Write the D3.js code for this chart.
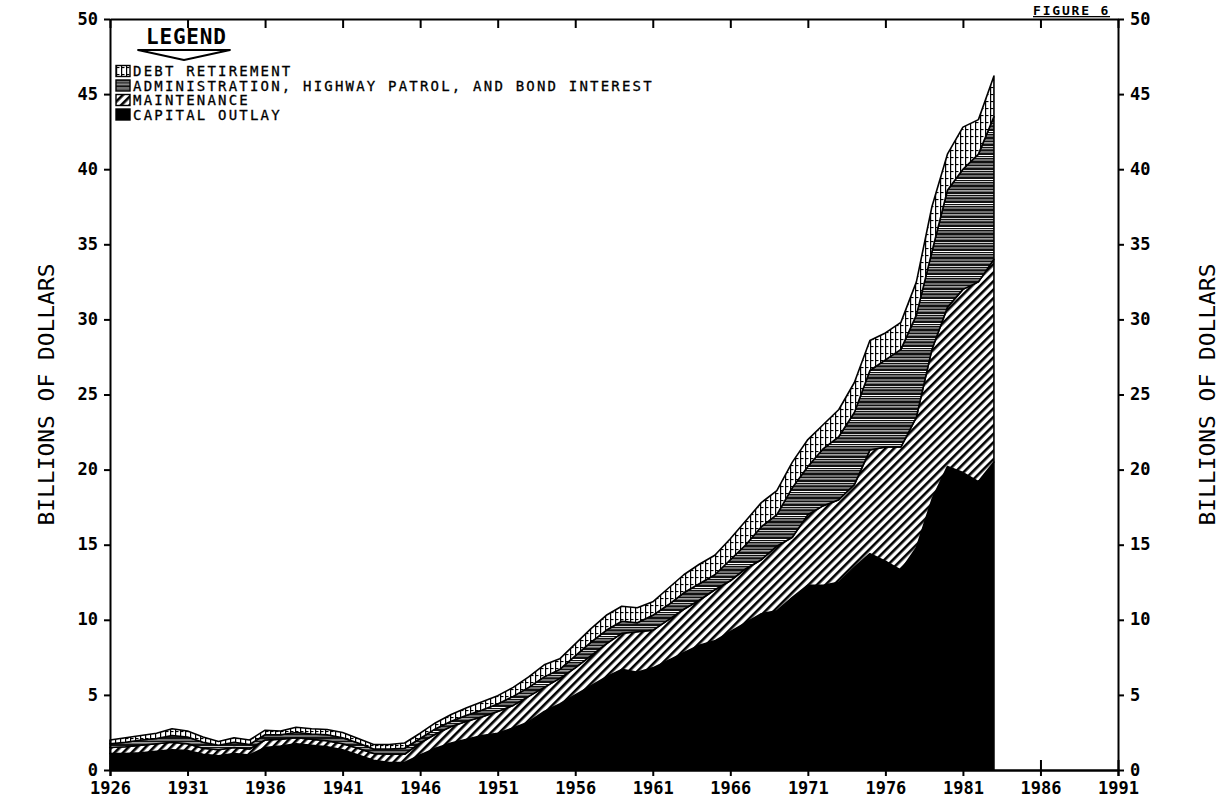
<!DOCTYPE html>
<html>
<head>
<meta charset="utf-8">
<script src="https://cdn.jsdelivr.net/npm/d3@7"></script>
<style>
  body { margin: 0; background: #fff; }
  svg { display: block; }
</style>
</head>
<body>
<div id="chart"></div>
<script>
// years 1926..1983, billions of dollars per category
const years = d3.range(1926, 1984);
const capitalOutlay = [
  1.1, 1.1, 1.15, 1.25, 1.35, 1.3, 1.05, 0.95, 1.1, 1.0,
  1.5, 1.6, 1.75, 1.65, 1.55, 1.35, 1.0, 0.65, 0.5, 0.5,
  1.0, 1.45, 1.8, 2.05, 2.3, 2.45, 2.8, 3.2, 3.9, 4.4,
  5.0, 5.6, 6.2, 6.7, 6.5, 6.8, 7.3, 7.8, 8.3, 8.6,
  9.2, 9.8, 10.4, 10.6, 11.5, 12.3, 12.3, 12.5, 13.5, 14.4,
  13.9, 13.3, 14.8, 18.0, 20.2, 19.8, 19.2, 20.5
];
const maintenance = [
  0.4, 0.45, 0.5, 0.5, 0.5, 0.45, 0.4, 0.4, 0.4, 0.4,
  0.5, 0.45, 0.4, 0.4, 0.4, 0.4, 0.45, 0.45, 0.55, 0.55,
  0.8, 0.95, 1.1, 1.2, 1.25, 1.45, 1.5, 1.7, 1.6, 1.7,
  1.8, 2.0, 2.2, 2.4, 2.7, 2.5, 2.7, 2.9, 3.0, 3.4,
  3.4, 3.6, 3.6, 4.3, 4.0, 4.7, 5.3, 5.5, 5.5, 6.9,
  7.6, 8.2, 8.7, 10.0, 10.6, 12.2, 13.3, 13.5
];
const administration = [
  0.25, 0.3, 0.35, 0.35, 0.45, 0.45, 0.4, 0.3, 0.35, 0.3,
  0.35, 0.3, 0.35, 0.35, 0.4, 0.4, 0.35, 0.3, 0.35, 0.4,
  0.3, 0.35, 0.35, 0.4, 0.45, 0.5, 0.6, 0.6, 0.7, 0.6,
  0.8, 0.9, 0.9, 0.8, 0.6, 1.0, 1.0, 1.1, 1.1, 1.0,
  1.4, 1.6, 2.2, 2.1, 3.3, 3.2, 3.8, 4.2, 4.8, 5.3,
  5.8, 6.5, 6.8, 6.5, 7.8, 8.0, 8.5, 9.5
];
const debtRetirement = [
  0.25, 0.3, 0.3, 0.35, 0.45, 0.4, 0.35, 0.25, 0.3, 0.3,
  0.3, 0.25, 0.35, 0.35, 0.35, 0.35, 0.3, 0.3, 0.3, 0.35,
  0.35, 0.4, 0.45, 0.5, 0.55, 0.55, 0.6, 0.7, 0.8, 0.7,
  0.8, 0.9, 1.0, 1.0, 1.0, 0.9, 1.1, 1.2, 1.3, 1.3,
  1.4, 1.6, 1.6, 1.6, 1.7, 1.8, 1.6, 1.8, 2.0, 2.0,
  1.8, 1.8, 2.2, 3.0, 2.4, 2.8, 2.3, 2.7
];
const xTicks = [1926, 1931, 1936, 1941, 1946, 1951, 1956, 1961, 1966, 1971, 1976, 1981, 1986, 1991];
const yTicks = [0, 5, 10, 15, 20, 25, 30, 35, 40, 45, 50];
const legendLabels = [
  "DEBT RETIREMENT",
  "ADMINISTRATION, HIGHWAY PATROL, AND BOND INTEREST",
  "MAINTENANCE",
  "CAPITAL OUTLAY"
];

const width = 1219, height = 797;
const plot = {left: 110, right: 1118, top: 19, bottom: 770};
const monoFont = "'DejaVu Sans Mono', monospace";

const svg = d3.select("#chart").append("svg")
  .attr("width", width)
  .attr("height", height);

// fill patterns
const defs = svg.append("defs");

const hatch = defs.append("pattern")
  .attr("id", "hatch")
  .attr("patternUnits", "userSpaceOnUse")
  .attr("width", 6).attr("height", 6)
  .attr("patternTransform", "rotate(45)");
hatch.append("rect").attr("width", 6).attr("height", 6).attr("fill", "#fff");
hatch.append("rect").attr("width", 2.6).attr("height", 6).attr("fill", "#000");

const lines = defs.append("pattern")
  .attr("id", "lines")
  .attr("patternUnits", "userSpaceOnUse")
  .attr("width", 8).attr("height", 24);
lines.append("rect").attr("width", 8).attr("height", 24).attr("fill", "#fff");
[[0, 2.2], [3, 1.4], [5.2, 2.4], [8.4, 2.6], [12, 1.2], [14, 1.6], [16.4, 3.2], [20.4, 1.6], [22.6, 1.0]]
  .forEach(([yy, h]) => lines.append("rect")
    .attr("y", yy).attr("width", 8).attr("height", h).attr("fill", "#111"));

const ladder = defs.append("pattern")
  .attr("id", "ladder")
  .attr("patternUnits", "userSpaceOnUse")
  .attr("width", 5).attr("height", 7);
ladder.append("rect").attr("width", 5).attr("height", 7).attr("fill", "#fff");
ladder.append("rect").attr("x", 0).attr("width", 1.2).attr("height", 7).attr("fill", "#000");
ladder.append("rect").attr("x", 0).attr("y", 3).attr("width", 3.5).attr("height", 1.1).attr("fill", "#000");

// scales
const x = d3.scaleLinear().domain([1926, 1991]).range([plot.left, plot.right]);
const y = d3.scaleLinear().domain([0, 50]).range([plot.bottom, plot.top]);

const table = years.map((yr, i) => ({
  year: yr,
  capital: capitalOutlay[i],
  maintenance: maintenance[i],
  admin: administration[i],
  debt: debtRetirement[i]
}));

const keys = ["capital", "maintenance", "admin", "debt"];
const fills = {capital: "#000", maintenance: "url(#hatch)", admin: "url(#lines)", debt: "url(#ladder)"};
const series = d3.stack().keys(keys)(table);

const area = d3.area()
  .x(d => x(d.data.year))
  .y0(d => y(d[0]))
  .y1(d => y(d[1]));

svg.append("g")
  .selectAll("path")
  .data(series)
  .join("path")
    .attr("d", area)
    .attr("fill", d => fills[d.key])
    .attr("stroke", "#000")
    .attr("stroke-width", 1.6)
    .attr("stroke-linejoin", "round");

// axes
function styleAxis(g) {
  g.select(".domain").attr("stroke-width", 2);
  g.selectAll(".tick line").attr("stroke-width", 2);
  g.selectAll("text")
    .attr("font-family", monoFont)
    .attr("font-weight", "bold")
    .attr("font-size", 17)
    .attr("fill", "#000");
}

svg.append("g")
  .attr("transform", `translate(0,${plot.bottom})`)
  .call(d3.axisBottom(x).tickValues(xTicks).tickFormat(d3.format("d")).tickSize(6).tickPadding(6))
  .call(styleAxis);

svg.append("g")
  .attr("transform", `translate(0,${plot.bottom})`)
  .call(d3.axisTop(x).tickValues(xTicks).tickFormat("").tickSize(10).tickSizeOuter(0))
  .call(styleAxis);

svg.append("g")
  .attr("transform", `translate(0,${plot.top})`)
  .call(d3.axisBottom(x).tickValues(xTicks).tickFormat("").tickSize(9).tickSizeOuter(0))
  .call(styleAxis);

svg.append("g")
  .attr("transform", `translate(${plot.left},0)`)
  .call(d3.axisLeft(y).tickValues(yTicks).tickSize(6).tickPadding(6).tickSizeOuter(0))
  .call(styleAxis)
  .call(g => g.selectAll("text").attr("dy", "0.3em"));

svg.append("g")
  .attr("transform", `translate(${plot.right},0)`)
  .call(d3.axisRight(y).tickValues(yTicks).tickSize(6).tickPadding(6).tickSizeOuter(0))
  .call(styleAxis)
  .call(g => g.selectAll("text").attr("dy", "0.3em"));

// axis titles
[46, 1207].forEach(tx => {
  svg.append("text")
    .attr("transform", `translate(${tx},${(plot.top + plot.bottom) / 2}) rotate(-90)`)
    .attr("text-anchor", "middle")
    .attr("dominant-baseline", "central")
    .attr("font-family", monoFont)
    .attr("font-size", 22)
    .attr("textLength", 262)
    .attr("lengthAdjust", "spacingAndGlyphs")
    .text("BILLIONS OF DOLLARS");
});

// legend
const legend = svg.append("g");
legend.append("text")
  .attr("x", 146).attr("y", 44)
  .attr("font-family", monoFont)
  .attr("font-weight", "bold")
  .attr("font-size", 21)
  .attr("letter-spacing", 0.8)
  .text("LEGEND");
legend.append("path")
  .attr("d", "M138,50 L230,50 L184,60 Z")
  .attr("fill", "none")
  .attr("stroke", "#000")
  .attr("stroke-width", 1.8)
  .attr("stroke-linejoin", "round");

const legendKeys = ["debt", "admin", "maintenance", "capital"];
legend.selectAll("g.item")
  .data(legendLabels)
  .join("g")
    .attr("class", "item")
    .attr("transform", (d, i) => `translate(116,${71 + i * 14.5})`)
    .each(function(d, i) {
      const g = d3.select(this);
      g.append("rect")
        .attr("x", 0).attr("y", -5.5)
        .attr("width", 14).attr("height", 11)
        .attr("fill", fills[legendKeys[i]])
        .attr("stroke", "#000")
        .attr("stroke-width", 1.4);
      g.append("text")
        .attr("x", 17).attr("y", 5)
        .attr("font-family", monoFont)
        .attr("font-size", 14)
        .attr("letter-spacing", 2.2)
        .attr("stroke", "#000")
        .attr("stroke-width", 0.3)
        .text(d);
    });

// figure tag
svg.append("text")
  .attr("x", 1033).attr("y", 15)
  .attr("font-family", monoFont)
  .attr("font-weight", "bold")
  .attr("font-size", 13)
  .attr("letter-spacing", 1.8)
  .attr("text-decoration", "underline")
  .text("FIGURE 6");
</script>
</body>
</html>
